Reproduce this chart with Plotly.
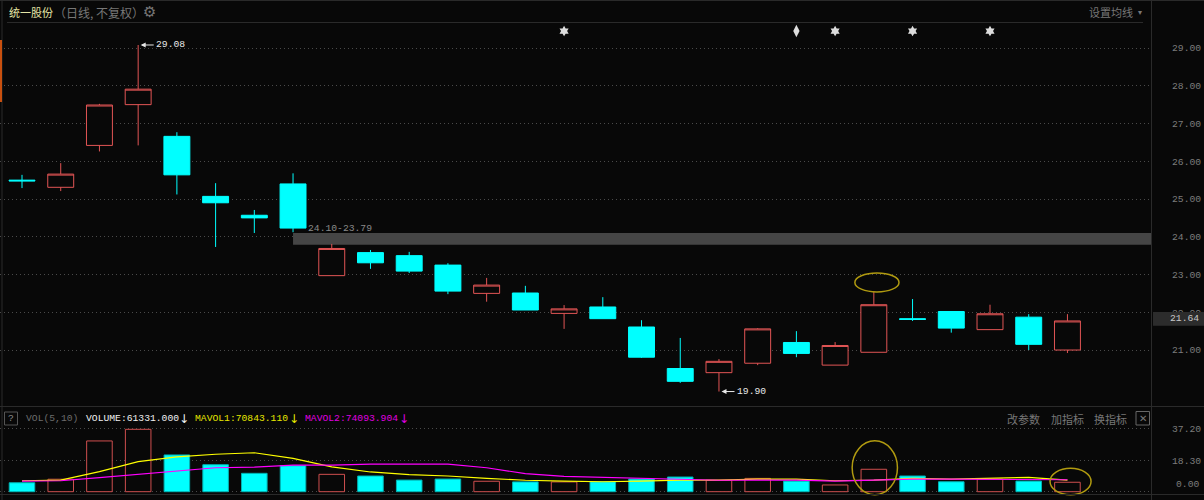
# Daily K-line chart with volume panel (dark trading-terminal look)
import plotly.graph_objects as go

# ---- data ----
opens = [25.50, 25.31, 26.42, 27.50, 26.66, 25.07, 24.57, 25.40, 22.97, 23.58, 23.50, 23.25, 22.50, 22.51,
         21.97, 22.14, 21.61, 20.51, 20.40, 20.65, 21.20, 20.60, 20.94, 21.83, 22.02, 21.54, 21.87, 21.00]
closes = [25.48, 25.66, 27.49, 27.91, 25.64, 24.90, 24.50, 24.23, 23.69, 23.31, 23.09, 22.56, 22.72, 22.06,
          22.09, 21.83, 20.81, 20.17, 20.70, 21.56, 20.91, 21.12, 22.20, 21.81, 21.58, 21.96, 21.15, 21.77]
highs = [25.64, 25.95, 27.52, 29.08, 26.77, 25.42, 24.71, 25.68, 23.81, 23.65, 23.60, 23.30, 22.91, 22.70,
         22.19, 22.40, 21.79, 21.32, 20.76, 21.58, 21.50, 21.21, 22.55, 22.35, 22.02, 22.20, 21.95, 21.95]
lows = [25.29, 25.21, 26.26, 26.42, 25.12, 23.73, 24.10, 24.12, 22.97, 23.15, 23.04, 22.48, 22.28, 22.06,
        21.56, 21.83, 20.79, 20.13, 19.90, 20.60, 20.81, 20.60, 20.94, 21.77, 21.46, 21.54, 21.00, 20.92]

volumes = [5.3, 7.4, 30.1, 37.0, 21.8, 16.0, 10.9, 15.4, 10.3, 9.3, 6.9, 7.5, 6.2, 5.8,
           5.8, 5.9, 7.5, 8.7, 6.8, 7.9, 6.3, 4.0, 13.3, 9.3, 5.9, 7.5, 6.3, 5.6]
mavol1 = [6.5, 6.9, 11.9, 17.8, 20.6, 22.2, 23.1, 19.8, 14.7, 11.7, 10.1, 9.3, 7.9, 6.8,
          6.3, 5.9, 6.3, 6.9, 6.9, 7.4, 7.4, 6.5, 6.9, 7.9, 7.5, 7.9, 8.5, 6.9]
mavol2 = [6.3, 6.5, 8.3, 10.3, 12.5, 14.2, 14.6, 15.8, 15.8, 16.4, 16.4, 16.3, 14.2, 10.7,
          9.1, 8.5, 7.9, 7.4, 6.8, 6.9, 6.9, 6.3, 6.9, 7.4, 7.4, 7.4, 7.4, 7.1]

price_ticks = [21, 22, 23, 24, 25, 26, 27, 28, 29]
vol_ticks = [18.3, 37.2]
vol_grid = [0.0, 18.3, 37.2]
star_days = [14, 21, 23, 25]
star_price = 29.45
note_day = 20
band_low, band_high = 23.79, 24.10
last_price = 21.64

days = list(range(len(opens)))

BG = "#080808"
RED = "#e25555"
CYAN = "#00ffff"
GRID = "#4a4a4a"
LINE = "#2a2a2a"
MONO = "Liberation Mono"
CJK = "Noto Sans CJK SC"

W, H = 1204, 500


# paper coordinates from window pixels, for the furniture around the plot
def px(x):
    return x / W


def py(y):
    return 1 - y / H


fig = go.Figure()

# ---- price panel ----
fig.add_trace(go.Candlestick(
    x=days, open=opens, high=highs, low=lows, close=closes,
    increasing=dict(line=dict(color=RED, width=1), fillcolor=BG),
    decreasing=dict(line=dict(color=CYAN, width=1), fillcolor=CYAN),
    whiskerwidth=0, xaxis="x", yaxis="y", showlegend=False,
))
fig.add_trace(go.Scatter(
    x=star_days, y=[star_price] * len(star_days), mode="markers",
    marker=dict(symbol="hexagram", size=8, color="#dddddd"),
    xaxis="x", yaxis="y", showlegend=False,
))
fig.add_trace(go.Scatter(
    x=[note_day], y=[star_price], mode="markers",
    marker=dict(symbol="diamond-tall", size=9, color="#dddddd"),
    xaxis="x", yaxis="y", showlegend=False,
))

# ---- volume panel ----
bar_fill = [BG if c >= o else CYAN for o, c in zip(opens, closes)]
bar_edge = ["#cf4f4f" if c >= o else "#00b4b4" for o, c in zip(opens, closes)]
fig.add_trace(go.Bar(
    x=days, y=volumes, width=0.66,
    marker=dict(color=bar_fill, line=dict(color=bar_edge, width=1)),
    xaxis="x2", yaxis="y2", showlegend=False,
))
fig.add_trace(go.Scatter(
    x=days, y=mavol1, mode="lines", line=dict(color="#ffff00", width=1.2),
    xaxis="x2", yaxis="y2", showlegend=False,
))
fig.add_trace(go.Scatter(
    x=days, y=mavol2, mode="lines", line=dict(color="#ff00ff", width=1.2),
    xaxis="x2", yaxis="y2", showlegend=False,
))

# ---- shapes ----
GOLD = "#b09a10"
shapes = [
    # support band
    dict(type="rect", xref="x", yref="y", x0=7.0, x1=29.16, y0=band_low, y1=band_high,
         fillcolor="#454545", line_width=0, layer="between"),
    # hand drawn ellipses
    dict(type="circle", xref="x", yref="y", x0=21.51, x1=22.65, y0=22.54, y1=23.04,
         line=dict(color=GOLD, width=1.5)),
    dict(type="circle", xref="x2", yref="y2", x0=21.44, x1=22.61, y0=-1.8, y1=30.2,
         line=dict(color=GOLD, width=1.5)),
    dict(type="circle", xref="x2", yref="y2", x0=26.55, x1=27.61, y0=-1.8, y1=13.9,
         line=dict(color=GOLD, width=1.5)),
    # panel frame
    dict(type="line", xref="paper", yref="paper", x0=px(1151.5), x1=px(1151.5), y0=0, y1=1,
         line=dict(color=LINE, width=1)),
    dict(type="line", xref="paper", yref="paper", x0=px(7), x1=px(1143), y0=py(22.5), y1=py(22.5),
         line=dict(color=LINE, width=1)),
    dict(type="line", xref="paper", yref="paper", x0=0, x1=1, y0=py(406.5), y1=py(406.5),
         line=dict(color=LINE, width=1)),
    dict(type="line", xref="paper", yref="paper", x0=0, x1=1, y0=py(494.5), y1=py(494.5),
         line=dict(color=LINE, width=1)),
    dict(type="line", xref="paper", yref="paper", x0=px(2), x1=px(2), y0=0, y1=1,
         line=dict(color=LINE, width=1)),
    dict(type="line", xref="paper", yref="paper", x0=0, x1=1, y0=py(0.5), y1=py(0.5),
         line=dict(color=LINE, width=1)),
    # orange marker on the left edge
    dict(type="rect", xref="paper", yref="paper", x0=0, x1=px(2), y0=py(102), y1=py(40),
         fillcolor="#c8500f", line_width=0),
    # "?" box and close box
    dict(type="rect", xref="paper", yref="paper", x0=px(4.5), x1=px(17.5), y0=py(425), y1=py(412),
         line=dict(color="#555555", width=1)),
    dict(type="rect", xref="paper", yref="paper", x0=px(1136), x1=px(1149.5), y0=py(425), y1=py(411.5),
         line=dict(color="#666666", width=1)),
    # last price tag, sits on top of the axis labels
    dict(type="rect", xref="paper", yref="y", x0=px(1153), x1=1, y0=last_price, y1=last_price + 0.37,
         fillcolor="#2c2c2c", line_width=0),
]


def label(x, y, text, color, size=9.7, family=MONO, anchor="left"):
    return dict(xref="paper", yref="paper", x=px(x), y=py(y), text=text, showarrow=False,
                xanchor=anchor, yanchor="middle", font=dict(color=color, size=size, family=family))


def price_note(day, price, text):
    # arrow points at the extreme of the wick, value sits after the arrow
    return dict(xref="x", yref="y", x=day, y=price, text=text, xanchor="left", yanchor="middle",
                showarrow=True, ax=14, ay=0, arrowcolor="#e8e8e8", arrowwidth=1, arrowhead=2,
                arrowsize=1, standoff=1, font=dict(color="#e8e8e8", size=9.7, family=MONO))


annotations = [
    label(7, 12, "统一股份", "#e4e4a4", 11, CJK),
    label(52, 12, "（日线, 不复权）", "#777777", 12, CJK),
    dict(xref="paper", yref="paper", x=px(149), y=py(12), text="⚙", showarrow=False, xanchor="center",
         yanchor="middle", font=dict(color="#777777", size=15, family="DejaVu Sans")),
    label(1087, 12, "设置均线", "#777777", 11, CJK),
    label(1136, 12, "▾", "#777777", 8, "DejaVu Sans"),
    label(11, 418.5, "?", "#888888", 9.7, MONO, "center"),
    label(24, 418.5, "VOL(5,10)", "#6c6c6c"),
    label(84, 418.5, "VOLUME:61331.000", "#f0f0f0"),
    label(184, 418.5, "↓", "#f0f0f0", 12, "DejaVu Sans", "center"),
    label(193, 418.5, "MAVOL1:70843.110", "#e6e600"),
    label(294, 418.5, "↓", "#e6e600", 12, "DejaVu Sans", "center"),
    label(303, 418.5, "MAVOL2:74093.904", "#e000e0"),
    label(404, 418.5, "↓", "#e000e0", 12, "DejaVu Sans", "center"),
    label(1005, 418.5, "改参数", "#777777", 11, CJK),
    label(1049, 418.5, "加指标", "#777777", 11, CJK),
    label(1092, 418.5, "换指标", "#777777", 11, CJK),
    label(1142.7, 418, "✕", "#777777", 10, "DejaVu Sans", "center"),
    # the 0.00 label sits above its gridline in the terminal
    label(1201, 484, "0.00", "#7c7c7c", 9.7, MONO, "right"),
    # price notes tied to the data
    price_note(3.04, 29.08, "29.08"),
    price_note(18.04, 19.90, "19.90"),
    dict(xref="x", yref="y", x=7.33, y=band_high, text="24.10-23.79", showarrow=False, xanchor="left",
         yanchor="bottom", yshift=-3, font=dict(color="#8a8a8a", size=9.7, family=MONO)),
    dict(xref="paper", yref="y", x=px(1201), y=last_price + 0.185, text="21.64", showarrow=False,
         xanchor="right", yanchor="middle", font=dict(color="#c8c8c8", size=9.7, family=MONO)),
]

# ---- layout ----
# 38.72 px per day, first candle centred at 22 px
x_range = [-22 / 38.72, (1151 - 22) / 38.72]
tick_font = dict(color="#7c7c7c", size=9.7, family=MONO)

fig.update_layout(
    width=W, height=H,
    margin=dict(l=0, r=0, t=0, b=0),
    paper_bgcolor=BG, plot_bgcolor=BG,
    boxgap=0.33, boxgroupgap=0,
    hovermode=False,
    showlegend=False,
    shapes=shapes,
    annotations=annotations,
    xaxis=dict(domain=[0, 1151 / W], range=x_range, visible=False, rangeslider_visible=False, anchor="y"),
    xaxis2=dict(domain=[0, 1151 / W], range=x_range, visible=False, anchor="y2"),
    yaxis=dict(
        domain=[py(406), py(22)], range=[19.517, 29.689], side="right", anchor="x",
        tickmode="array", tickvals=price_ticks, ticktext=[f"{t:.2f}" for t in price_ticks],
        tickfont=tick_font, ticklen=0, ticklabelstandoff=20,
        showgrid=True, gridcolor=GRID, griddash="1px,3px", gridwidth=1, zeroline=False, showline=False,
    ),
    yaxis2=dict(
        domain=[py(496), py(425)], range=[-2.55, 39.56], side="right", anchor="x2",
        tickmode="array", tickvals=vol_grid,
        ticktext=["" if t not in vol_ticks else f"{t:.2f}" for t in vol_grid],
        tickfont=tick_font, ticklen=0, ticklabelstandoff=20,
        showgrid=True, gridcolor=GRID, griddash="1px,3px", gridwidth=1, zeroline=False, showline=False,
    ),
)

# the page's default 8 px body margin would push the figure off the window
fig.write_html(
    "out.html",
    config={"displayModeBar": False},
    post_script="document.body.style.margin='0';document.body.style.background='#080808';",
)
